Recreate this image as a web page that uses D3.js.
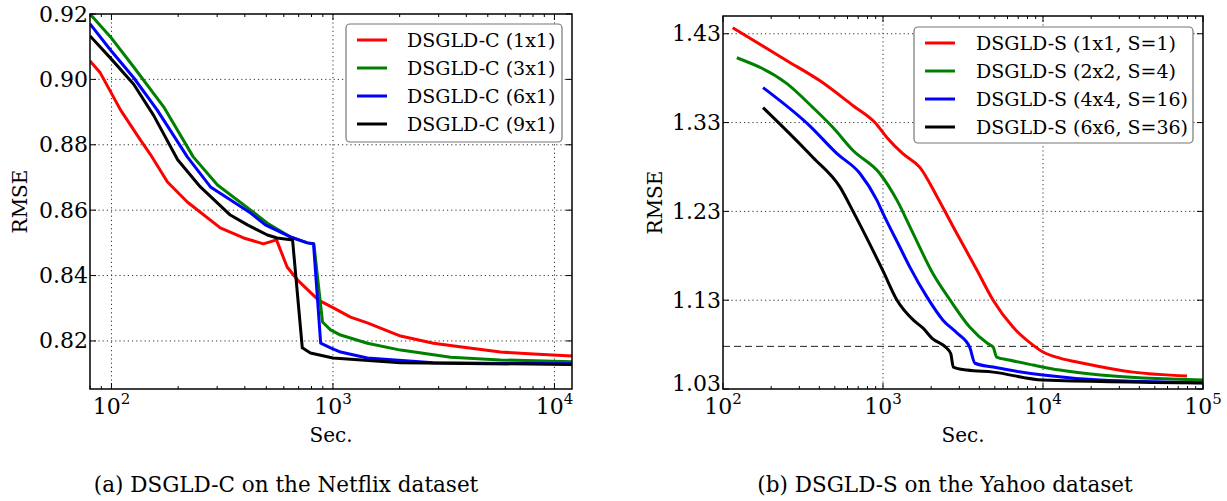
<!DOCTYPE html>
<html>
<head>
<meta charset="utf-8">
<script src="https://cdn.jsdelivr.net/npm/d3@7"></script>
<style>
  body { margin: 0; background: #fff; }
  svg { display: block; }
  text { font-family: "DejaVu Serif", serif; fill: #000; }
</style>
</head>
<body>
<script>
// ---- data ----
const netflixLabels = ["DSGLD-C (1x1)", "DSGLD-C (3x1)", "DSGLD-C (6x1)", "DSGLD-C (9x1)"];
const netflix1x1 = [[80,0.9056],[89,0.902],[110,0.8906],[135,0.8815],[150,0.877],[179,0.8686],[220,0.8625],[310,0.8546],[395,0.8515],[485,0.8497],[556,0.8509],[621,0.8426],[691,0.8387],[860,0.8325],[1000,0.8302],[1200,0.8273],[1430,0.8255],[2020,0.8215],[2840,0.8193],[4050,0.8179],[5700,0.8166],[8040,0.816],[12000,0.8154]];
const netflix3x1 = [[80,0.92],[99,0.913],[126,0.9038],[172,0.8916],[234,0.8763],[301,0.8677],[437,0.8594],[506,0.856],[643,0.8518],[767,0.85],[820,0.8497],[897,0.8258],[975,0.8234],[1082,0.8218],[1430,0.8193],[2020,0.8172],[3400,0.815],[5700,0.8142],[12000,0.8136]];
const netflix6x1 = [[80,0.917],[99,0.909],[126,0.9005],[161,0.8906],[220,0.8763],[280,0.8671],[425,0.8591],[495,0.8555],[643,0.8518],[767,0.85],[817,0.8497],[880,0.8193],[975,0.8179],[1082,0.8166],[1430,0.8148],[2840,0.8133],[12000,0.813]];
const netflix9x1 = [[80,0.9133],[99,0.9065],[126,0.8985],[155,0.889],[199,0.8754],[252,0.8671],[344,0.8585],[411,0.8555],[506,0.8524],[560,0.8515],[657,0.8509],[727,0.8179],[791,0.8163],[1000,0.8148],[2020,0.8133],[12000,0.8128]];
const netflixYTicks = [0.82, 0.84, 0.86, 0.88, 0.90, 0.92];

const yahooLabels = ["DSGLD-S (1x1, S=1)", "DSGLD-S (2x2, S=4)", "DSGLD-S (4x4, S=16)", "DSGLD-S (6x6, S=36)"];
const yahoo1x1 = [[115,1.4367],[251,1.3997],[404,1.377],[650,1.349],[891,1.33],[1060,1.313],[1330,1.295],[1700,1.2795],[2190,1.2457],[2820,1.2087],[3870,1.1637],[4880,1.13],[6490,1.0997],[8660,1.0794],[10000,1.0716],[12760,1.0648],[17800,1.059],[36500,1.049],[79400,1.0446]];
const yahoo2x2 = [[122,1.403],[251,1.3738],[365,1.3469],[487,1.3244],[650,1.2985],[955,1.2727],[1224,1.2424],[1510,1.2087],[2050,1.16],[2630,1.13],[3480,1.0997],[4470,1.0817],[4880,1.0772],[5130,1.066],[6130,1.0626],[8660,1.057],[12760,1.0513],[22900,1.0457],[100000,1.040]];
const yahoo4x4 = [[178,1.3693],[347,1.3266],[516,1.295],[718,1.2727],[917,1.2424],[1000,1.2278],[1276,1.1896],[1475,1.167],[1885,1.1334],[2370,1.1075],[2900,1.093],[3480,1.0772],[3760,1.059],[4880,1.0547],[10000,1.0457],[22900,1.04],[100000,1.037]];
const yahoo6x6 = [[178,1.3469],[365,1.2907],[540,1.257],[650,1.23],[1000,1.163],[1224,1.13],[1550,1.1075],[1780,1.0985],[2020,1.0873],[2500,1.076],[2650,1.070],[2750,1.0547],[3350,1.0513],[4880,1.049],[10000,1.040],[100000,1.0367]];
const yahooYTicks = [1.03, 1.13, 1.23, 1.33, 1.43];
const yahooTarget = 1.078;

const seriesColors = ["#ff0000", "#008000", "#0000ff", "#000000"];

const W = 1227, H = 501;
const svg = d3.select("body").append("svg").attr("width", W).attr("height", H);

function drawPanel(p) {
    const x = d3.scaleLog().domain(p.xDomain).range([p.left, p.right]);
    const y = d3.scaleLinear().domain(p.yDomain).range([p.bottom, p.top]);
    const g = svg.append("g");

    const clipId = "clip" + p.id;
    g.append("clipPath").attr("id", clipId).append("rect")
        .attr("x", p.left).attr("y", p.top)
        .attr("width", p.right - p.left).attr("height", p.bottom - p.top);

    const major = p.xMajor;
    const minor = x.ticks().filter(t => !major.includes(t));

    // grid
    g.selectAll(".gx").data(major.filter(t => t > p.xDomain[0] && t < p.xDomain[1])).enter().append("line")
        .attr("x1", d => x(d)).attr("x2", d => x(d))
        .attr("y1", p.top).attr("y2", p.bottom)
        .attr("stroke", "#333").attr("stroke-width", 1).attr("stroke-dasharray", "1.2,3");
    g.selectAll(".gy").data(p.yTicks.filter(t => t > p.yDomain[0] && t < p.yDomain[1])).enter().append("line")
        .attr("x1", p.left).attr("x2", p.right)
        .attr("y1", d => y(d)).attr("y2", d => y(d))
        .attr("stroke", "#333").attr("stroke-width", 1).attr("stroke-dasharray", "1.2,3");

    if (p.hline) {
        g.append("line")
            .attr("x1", p.left).attr("x2", p.right)
            .attr("y1", y(p.hline)).attr("y2", y(p.hline))
            .attr("stroke", "#222").attr("stroke-width", 1).attr("stroke-dasharray", "7,4");
    }

    // curves
    const line = d3.line().curve(p.curve).x(d => x(d[0])).y(d => y(d[1]));
    p.series.forEach((s, i) => {
        g.append("path").datum(s)
            .attr("clip-path", `url(#${clipId})`)
            .attr("d", line)
            .attr("fill", "none")
            .attr("stroke", seriesColors[i])
            .attr("stroke-width", 3)
            .attr("stroke-linejoin", "round");
    });

    // ticks (inward, all four sides)
    const tk = g.append("g").attr("stroke", "#000").attr("stroke-width", 1);
    major.forEach(t => {
        tk.append("line").attr("x1", x(t)).attr("x2", x(t)).attr("y1", p.bottom).attr("y2", p.bottom - 6);
        tk.append("line").attr("x1", x(t)).attr("x2", x(t)).attr("y1", p.top).attr("y2", p.top + 6);
    });
    minor.forEach(t => {
        tk.append("line").attr("x1", x(t)).attr("x2", x(t)).attr("y1", p.bottom).attr("y2", p.bottom - 3);
        tk.append("line").attr("x1", x(t)).attr("x2", x(t)).attr("y1", p.top).attr("y2", p.top + 3);
    });
    p.yTicks.forEach(t => {
        tk.append("line").attr("x1", p.left).attr("x2", p.left + 6).attr("y1", y(t)).attr("y2", y(t));
        tk.append("line").attr("x1", p.right).attr("x2", p.right - 6).attr("y1", y(t)).attr("y2", y(t));
    });

    // frame
    g.append("rect")
        .attr("x", p.left).attr("y", p.top)
        .attr("width", p.right - p.left).attr("height", p.bottom - p.top)
        .attr("fill", "none").attr("stroke", "#000").attr("stroke-width", 1.5);

    // y tick labels
    g.selectAll(".yl").data(p.yTicks).enter().append("text")
        .attr("x", p.left - 2).attr("y", d => y(d) + p.yLabelShift(d))
        .attr("text-anchor", "end").attr("dominant-baseline", "central")
        .attr("font-size", 22)
        .text(d => d3.format(".2f")(d));

    // x tick labels 10^k
    major.forEach(t => {
        const txt = g.append("text")
            .attr("x", x(t)).attr("y", p.bottom + 25)
            .attr("text-anchor", "middle").attr("font-size", 22);
        txt.append("tspan").text("10");
        txt.append("tspan").attr("font-size", 15).attr("dy", -10).text(Math.round(Math.log10(t)));
    });

    // axis labels
    g.append("text")
        .attr("x", (p.left + p.right) / 2).attr("y", p.bottom + 53)
        .attr("text-anchor", "middle").attr("font-size", 20).text("Sec.");
    g.append("text")
        .attr("transform", `translate(${p.yLabelX},${(p.top + p.bottom) / 2}) rotate(-90)`)
        .attr("text-anchor", "middle").attr("dominant-baseline", "central")
        .attr("font-size", 20).text("RMSE");

    // caption
    g.append("text")
        .attr("x", p.captionX).attr("y", 492)
        .attr("text-anchor", "middle").attr("font-size", 21.5).text(p.caption);

    // legend
    const lg = g.append("g");
    lg.append("rect")
        .attr("x", p.legend.x).attr("y", p.legend.y)
        .attr("width", p.legend.w).attr("height", p.legend.h)
        .attr("rx", 4).attr("fill", "#fff")
        .attr("stroke", "#777").attr("stroke-width", 1.2);
    p.labels.forEach((lab, i) => {
        const cy = p.legend.y + 16 + i * 28;
        lg.append("line")
            .attr("x1", p.legend.x + 11).attr("x2", p.legend.x + 41)
            .attr("y1", cy).attr("y2", cy)
            .attr("stroke", seriesColors[i]).attr("stroke-width", 3);
        lg.append("text")
            .attr("x", p.legend.x + p.legend.textDx).attr("y", cy)
            .attr("dominant-baseline", "central").attr("font-size", 19).text(lab);
    });
}

drawPanel({
    id: "a", left: 90, right: 572, top: 14, bottom: 389,
    xDomain: [80, 12000], yDomain: [0.8053, 0.92],
    xMajor: [100, 1000, 10000], yTicks: netflixYTicks,
    series: [netflix1x1, netflix3x1, netflix6x1, netflix9x1],
    curve: d3.curveLinear,
    labels: netflixLabels,
    legend: { x: 346, y: 24, w: 216, h: 118, textDx: 61 },
    yLabelX: 20, captionX: 286,
    yLabelShift: d => 0,
    caption: "(a) DSGLD-C on the Netflix dataset"
});

drawPanel({
    id: "b", left: 723, right: 1203, top: 16, bottom: 389,
    xDomain: [100, 100000], yDomain: [1.03, 1.45],
    xMajor: [100, 1000, 10000, 100000], yTicks: yahooYTicks,
    series: [yahoo1x1, yahoo2x2, yahoo4x4, yahoo6x6],
    curve: d3.curveMonotoneX,
    labels: yahooLabels,
    legend: { x: 914, y: 27, w: 279, h: 116, textDx: 62 },
    yLabelX: 655, captionX: 945,
    yLabelShift: d => (d === 1.03 ? -6 : 0),
    hline: yahooTarget,
    caption: "(b) DSGLD-S on the Yahoo dataset"
});
</script>
</body>
</html>
